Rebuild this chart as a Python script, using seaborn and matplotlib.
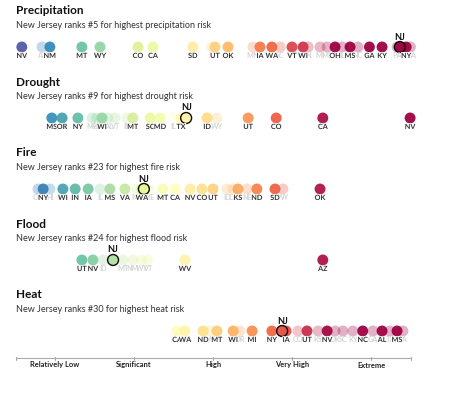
import matplotlib
matplotlib.use("Agg")
import matplotlib.pyplot as plt
import matplotlib.patheffects as pe
import pandas as pd
import seaborn as sns

# risk scores on a 0-100 scale; 1 = labelled state, 0 = faded background state
precip_states = ["NV", "AZ", "NM", "MT", "WY", "CO", "CA", "SD", "ID", "UT", "OK", "MN", "IA", "WA", "SC",
                 "VT", "WI", "IN", "MI", "ME", "OH", "IL", "MS", "NC", "GA", "KY", "PA", "NJ", "NY", "MA"]
precip_values = [1.6, 6.7, 8.7, 16.8, 21.4, 31.0, 34.8, 44.9, 49.7, 50.5, 53.8, 60.1, 61.9, 64.9, 67.0,
                 70.0, 72.8, 74.1, 77.1, 78.9, 80.9, 82.7, 84.7, 86.7, 89.6, 92.8, 96.6, 97.3, 98.9, 100.0]
precip_shown = [1, 0, 1, 1, 1, 1, 1, 1, 0, 1, 1, 0, 1, 1, 0,
                1, 1, 0, 0, 0, 1, 0, 1, 0, 1, 1, 0, 1, 1, 0]

drought_states = ["MS", "OR", "NY", "ME", "MA", "WI", "AL", "VT", "IN", "MT", "SC", "MD", "IL", "TX",
                  "NJ", "ID", "WY", "UT", "CO", "CA", "NV"]
drought_values = [9.2, 11.8, 15.8, 19.4, 20.6, 21.9, 23.4, 25.2, 28.2, 29.7, 34.1, 36.6, 39.9, 41.9,
                  43.2, 48.5, 51.0, 58.9, 66.0, 77.8, 99.9]
drought_shown = [1, 1, 1, 0, 0, 1, 0, 0, 0, 1, 1, 1, 0, 1,
                 1, 1, 0, 1, 1, 1, 1]

fire_states = ["OR", "NY", "HI", "WI", "IN", "IA", "IL", "MS", "VA", "MA", "WA", "NJ", "ME", "MT", "CA",
               "NV", "CO", "UT", "ID", "DE", "KS", "NE", "ND", "SD", "WY", "OK"]
fire_values = [5.7, 7.0, 8.7, 12.0, 15.1, 18.4, 21.4, 23.9, 27.7, 30.8, 32.0, 32.5, 33.8, 37.3, 40.4,
               44.2, 47.2, 50.0, 53.5, 55.1, 56.3, 58.6, 61.1, 65.7, 67.7, 77.1]
fire_shown = [0, 1, 0, 1, 1, 1, 0, 1, 1, 0, 1, 1, 0, 1, 1,
              1, 1, 1, 0, 0, 1, 0, 1, 1, 0, 1]

flood_states = ["UT", "NV", "ID", "NJ", "MT", "NM", "WY", "VT", "WV", "AZ"]
flood_values = [16.8, 19.6, 22.2, 24.7, 27.2, 29.7, 32.0, 33.5, 42.9, 77.8]
flood_shown = [1, 1, 0, 1, 0, 0, 0, 0, 1, 1]

heat_states = ["CA", "WA", "ND", "ME", "MT", "WI", "OR", "MI", "NY", "NJ", "IA", "CO", "UT", "KS",
               "NV", "OK", "SC", "KY", "NC", "GA", "AL", "TX", "MS", "LA"]
heat_values = [40.9, 42.9, 47.5, 49.2, 51.0, 55.1, 56.8, 59.9, 64.9, 67.5, 68.5, 71.5, 73.8, 76.6,
               78.9, 80.9, 82.9, 85.4, 87.9, 90.5, 92.8, 94.8, 96.6, 98.1]
heat_shown = [1, 1, 1, 0, 1, 1, 0, 1, 1, 1, 1, 0, 1, 0,
              1, 0, 0, 0, 1, 0, 1, 0, 1, 0]

hazards = ["Precipitation", "Drought", "Fire", "Flood", "Heat"]
nj_ranks = [5, 9, 23, 24, 30]
scale_labels = ["Relatively Low", "Significant", "High", "Very High", "Extreme"]
scale_pos = [10, 30, 50, 70, 90]

frames = []
for name, st, val, sh in [
    ("Precipitation", precip_states, precip_values, precip_shown),
    ("Drought", drought_states, drought_values, drought_shown),
    ("Fire", fire_states, fire_values, fire_shown),
    ("Flood", flood_states, flood_values, flood_shown),
    ("Heat", heat_states, heat_values, heat_shown),
]:
    frames.append(pd.DataFrame({"hazard": name, "state": st, "value": val, "shown": sh}))
df = pd.concat(frames, ignore_index=True)

# vertical layout in pixel units (figure is 474x395)
title_y = {h: 11 + 71 * i for i, h in enumerate(hazards)}
df["y"] = df["hazard"].map(title_y) + 36

sns.set_style("white")
plt.rcParams["font.family"] = ["Lato", "DejaVu Sans"]

fig = plt.figure(figsize=(4.74, 3.95), dpi=100)
ax = fig.add_axes([0, 0, 1, 1])
ax.set_xlim(-15.5 / 3.95, (474 - 15.5) / 3.95)
ax.set_ylim(395, 0)
ax.axis("off")

kw = dict(x="value", y="y", hue="value", palette="Spectral_r", hue_norm=(0, 80),
          legend=False, ax=ax, s=62, linewidth=0)
faded = df[df["shown"] == 0]
strong = df[(df["shown"] == 1) & (df["state"] != "NJ")]
nj = df[(df["state"] == "NJ")]
sns.scatterplot(data=faded, alpha=0.3, **kw)
sns.scatterplot(data=strong, alpha=0.95, **kw)
kw.update(linewidth=1.0)
sns.scatterplot(data=nj, alpha=0.95, edgecolor="black", **kw)

# faded labels first, labelled states drawn over them
for _, r in faded.iterrows():
    ax.text(r["value"], r["y"] + 8.5, r["state"], ha="center", va="center",
            fontsize=5.2, fontweight="bold", color="#d4d4d4")
for _, r in strong.iterrows():
    ax.text(r["value"], r["y"] + 8.5, r["state"], ha="center", va="center",
            fontsize=5.2, fontweight="bold", color="#333333",
            path_effects=[pe.withStroke(linewidth=1.2, foreground="white")])
for _, r in nj.iterrows():
    ax.text(r["value"], r["y"] - 10, "NJ", ha="center", va="center",
            fontsize=6.5, fontweight="bold", color="#111111")

for h, rank in zip(hazards, nj_ranks):
    ty = title_y[h]
    ax.text(0, ty, h, ha="left", va="center", fontsize=8.5, fontweight="bold", color="#111111")
    ax.text(0, ty + 14.5, f"New Jersey ranks #{rank} for highest {h.lower()} risk",
            ha="left", va="center", fontsize=6.5, color="#333333")

# scale at the bottom
ax.plot([0, 100], [358, 358], color="#aaaaaa", lw=0.8)
for t in [0] + scale_pos + [100]:
    ax.plot([t, t], [356.5, 359.5], color="#aaaaaa", lw=0.8)
for lab, p in zip(scale_labels, scale_pos):
    ax.text(p, 365, lab, ha="center", va="center", fontsize=5.4, fontweight="bold", color="#222222")

fig.savefig("out.png", dpi=100)
